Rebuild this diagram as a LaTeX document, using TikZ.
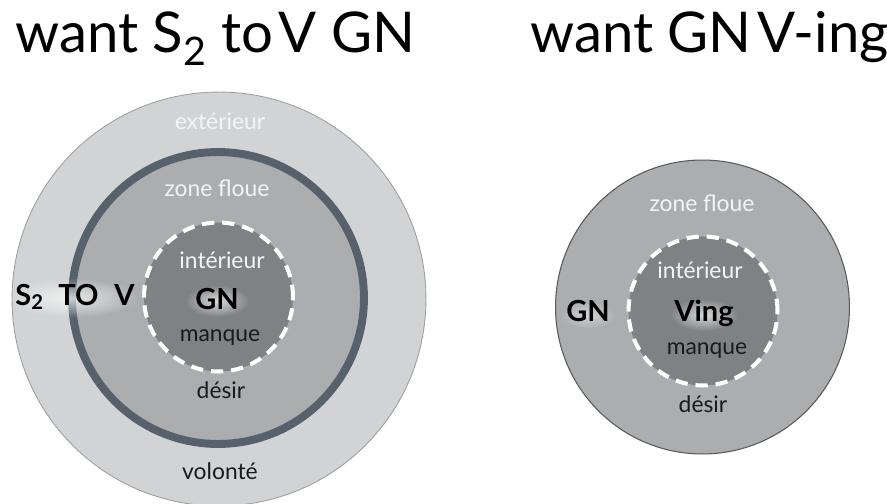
\documentclass[tikz,border=0pt]{standalone}
\usepackage{fontspec}
\setmainfont{Lato}
\definecolor{OuterGrey}{HTML}{D1D3D4}
\definecolor{ZoneGrey}{HTML}{ABADAF}
\definecolor{RingSlate}{HTML}{56616C}
\definecolor{CoreGrey}{HTML}{7F8183}
\definecolor{SoftWhite}{HTML}{F4F4F4}
\definecolor{InkBlack}{HTML}{1A1A1A}
\usetikzlibrary{positioning,fadings}
\tikzfading[name=glowfade, inner color=transparent!0, outer color=transparent!100]

\begin{document}
\begin{tikzpicture}[x=0.02cm, y=-0.02cm,
      every node/.style={font=\fontsize{13}{15}\selectfont, inner sep=0pt},
      title/.style={font=\fontsize{32}{35}\selectfont, anchor=base west, text=black},
      disc/.style={circle, inner sep=0pt},
      core/.style={disc, fill=CoreGrey, draw=white, line width=2.3pt,
                   dash pattern=on 7pt off 4.5pt, minimum size=2.98cm},
      pale/.style={anchor=base, text=SoftWhite},
      ink/.style={anchor=base, text=InkBlack},
      keyword/.style={anchor=base, text=black, font=\fontsize{16.5}{18}\selectfont\bfseries},
      glow/.style={white, path fading=glowfade, opacity=0.7}
  ]
    \useasboundingbox (0,0) rectangle (887,504);
    \clip (0,0) rectangle (887,504);
    \node[title] (t1) at (15,52) {want S\textsubscript{2} to\hspace{0.1em}V GN};
    \node[title] (t2) at (530,52) {want GN\hspace{0.1em}V-ing};
    % want S2 to V GN
    \node[disc, fill=OuterGrey, draw=gray!75, line width=0.5pt, minimum size=8.28cm] (ext) at (219,299) {};
    \node[disc, fill=ZoneGrey, draw=RingSlate, line width=4.5pt, minimum size=5.84cm] (ring) at (218,298) {};
    \node[core] (inner) at (218.5,297) {};
    \fill[glow] (72,298) ellipse (66 and 20);
    \fill[glow] (217,301) ellipse (32 and 16);
    \node[pale] (ext-l) at (220,129) {extérieur};
    \node[pale] (zone-l) at (217,196) {zone floue};
    \node[pale] (int-l) at (222,268) {intérieur};
    \node[keyword] (gn-l) at (217,309) {GN};
    \node[ink] (man-l) at (220,341) {manque};
    \node[ink] (des-l) at (221,398) {désir};
    \node[ink] (vol-l) at (220,479) {volonté};
    \node[keyword, anchor=base west] (stov) at (15,305) {S\textsubscript{2}\hspace{0.5em}TO\hspace{0.55em}V};
    % want GN V-ing
    \node[disc, fill=ZoneGrey, draw=gray!70!black, line width=0.6pt, minimum size=5.88cm] (zone) at (702.5,307) {};
    \node[core] (innerR) at (703,311) {};
    \fill[glow] (704,315) ellipse (34 and 16);
    \fill[glow, opacity=0.45] (588,315) ellipse (28 and 14);
    \node[pale] (zone-r) at (702,211) {zone floue};
    \node[pale] (int-r) at (700,278) {intérieur};
    \node[keyword] (ving) at (704,321) {Ving};
    \node[keyword] (gn-r) at (588,321) {GN};
    \node[ink] (man-r) at (707,354) {manque};
    \node[ink] (des-r) at (703,412) {désir};
  \end{tikzpicture}
\end{document}
